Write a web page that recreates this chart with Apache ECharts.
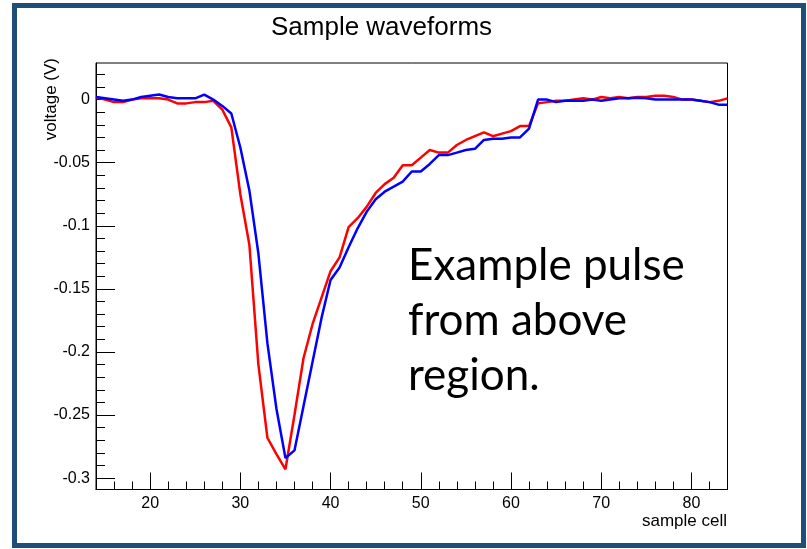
<!DOCTYPE html>
<html>
<head>
<meta charset="utf-8">
<script src="https://cdn.jsdelivr.net/npm/echarts@6/dist/echarts.min.js"></script>
<style>
  html, body { margin: 0; padding: 0; background: #ffffff; }
  #chart { width: 807px; height: 549px; }
</style>
</head>
<body>
<div id="chart"></div>
<script>
// Sample cells along the x axis
const cells = [14, 15, 16, 17, 18, 19, 20, 21, 22, 23, 24, 25, 26, 27, 28, 29, 30, 31, 32, 33,
  34, 35, 36, 37, 38, 39, 40, 41, 42, 43, 44, 45, 46, 47, 48, 49, 50, 51, 52, 53,
  54, 55, 56, 57, 58, 59, 60, 61, 62, 63, 64, 65, 66, 67, 68, 69, 70, 71, 72, 73,
  74, 75, 76, 77, 78, 79, 80, 81, 82, 83, 84];

// Voltage (V) of the red waveform, one value per sample cell
const redVolts = [0.002, 0.000, -0.002, -0.002, 0.000, 0.001, 0.001, 0.001, 0.000, -0.003,
  -0.003, -0.002, -0.002, -0.001, -0.008, -0.022, -0.075, -0.115, -0.210, -0.268,
  -0.281, -0.293, -0.250, -0.205, -0.178, -0.157, -0.136, -0.125, -0.101, -0.094,
  -0.085, -0.074, -0.067, -0.062, -0.052, -0.052, -0.046, -0.040, -0.042, -0.042,
  -0.036, -0.032, -0.029, -0.026, -0.029, -0.027, -0.025, -0.021, -0.021, -0.003,
  -0.002, -0.001, -0.001, 0.000, 0.001, 0.000, 0.002, 0.001, 0.002, 0.001,
  0.002, 0.002, 0.003, 0.003, 0.002, 0.000, 0.000, -0.001, -0.002, -0.001,
  0.001];

// Voltage (V) of the blue waveform, one value per sample cell
const blueVolts = [0.002, 0.001, 0.000, -0.001, 0.000, 0.002, 0.003, 0.004, 0.002, 0.001,
  0.001, 0.001, 0.004, 0.000, -0.005, -0.011, -0.038, -0.072, -0.122, -0.193,
  -0.245, -0.284, -0.278, -0.243, -0.208, -0.173, -0.143, -0.133, -0.117, -0.102,
  -0.089, -0.079, -0.073, -0.069, -0.065, -0.057, -0.057, -0.051, -0.044, -0.044,
  -0.042, -0.040, -0.039, -0.032, -0.031, -0.031, -0.030, -0.030, -0.023, 0.000,
  0.000, -0.002, -0.001, -0.001, -0.001, 0.000, -0.001, 0.000, 0.001, 0.001,
  0.0015, 0.001, 0.000, 0.000, 0.000, 0.000, 0.000, -0.001, -0.002, -0.004,
  -0.004];

// Axis ranges and tick positions
const xRange = [14, 84];
const yRange = [-0.309, 0.029];
const xMajorTicks = [20, 30, 40, 50, 60, 70, 80];
const xMinorTicks = [16, 18, 22, 24, 26, 28, 32, 34, 36, 38, 42, 44, 46, 48, 52, 54, 56, 58,
  62, 64, 66, 68, 72, 74, 76, 78, 82];
const yMajorTicks = [0, -0.05, -0.1, -0.15, -0.2, -0.25, -0.3];
const yMinorTicks = [0.02, 0.01, -0.01, -0.02, -0.03, -0.04, -0.06, -0.07, -0.08, -0.09,
  -0.11, -0.12, -0.13, -0.14, -0.16, -0.17, -0.18, -0.19, -0.21, -0.22, -0.23, -0.24,
  -0.26, -0.27, -0.28, -0.29];

const FONT = '"Liberation Sans", Arial, Helvetica, sans-serif';

function pairs(xs, ys) {
  return xs.map((x, i) => [x, ys[i]]);
}

const chart = echarts.init(document.getElementById('chart'), null, { renderer: 'canvas' });

const tickLine = { color: '#000', width: 1 };

chart.setOption({
  animation: false,
  backgroundColor: '#ffffff',
  title: {
    text: 'Sample waveforms',
    left: 376.5,
    top: 10,
    textAlign: 'center',
    textStyle: { fontFamily: FONT, fontSize: 26, fontWeight: 'normal', color: '#000' }
  },
  grid: {
    left: 96, top: 63, right: 79.5, bottom: 59.5,
    show: true, borderColor: '#000', borderWidth: 1, backgroundColor: 'transparent'
  },
  xAxis: [
    {
      type: 'value', min: xRange[0], max: xRange[1], position: 'bottom',
      axisLine: { show: true, onZero: false, lineStyle: tickLine },
      axisTick: { show: true, inside: true, length: 17, customValues: xMajorTicks, lineStyle: tickLine },
      axisLabel: {
        show: true, customValues: xMajorTicks, margin: 6,
        fontFamily: FONT, fontSize: 16, color: '#000'
      },
      splitLine: { show: false }
    },
    {
      type: 'value', min: xRange[0], max: xRange[1], position: 'bottom',
      axisLine: { show: false, onZero: false },
      axisTick: { show: true, inside: true, length: 8, customValues: xMinorTicks, lineStyle: tickLine },
      axisLabel: { show: false },
      splitLine: { show: false }
    }
  ],
  yAxis: [
    {
      type: 'value', min: yRange[0], max: yRange[1], position: 'left',
      axisLine: { show: true, onZero: false, lineStyle: tickLine },
      axisTick: { show: true, inside: true, length: 19, customValues: yMajorTicks, lineStyle: tickLine },
      axisLabel: {
        show: true, customValues: yMajorTicks, margin: 6,
        fontFamily: FONT, fontSize: 16, color: '#000',
        formatter: v => String(+v.toFixed(3))
      },
      splitLine: { show: false }
    },
    {
      type: 'value', min: yRange[0], max: yRange[1], position: 'left', offset: 0,
      axisLine: { show: false, onZero: false },
      axisTick: { show: true, inside: true, length: 9, customValues: yMinorTicks, lineStyle: tickLine },
      axisLabel: { show: false },
      splitLine: { show: false }
    }
  ],
  series: [
    {
      name: 'red', type: 'line', xAxisIndex: 0, yAxisIndex: 0,
      data: pairs(cells, redVolts), showSymbol: false, symbol: 'none',
      lineStyle: { color: '#ff0000', width: 2.5 }, z: 3
    },
    {
      name: 'blue', type: 'line', xAxisIndex: 0, yAxisIndex: 0,
      data: pairs(cells, blueVolts), showSymbol: false, symbol: 'none',
      lineStyle: { color: '#0000ff', width: 2.5 }, z: 4
    }
  ],
  graphic: [
    {
      type: 'rect', silent: true, z: 100,
      shape: { x: 14.5, y: 5.5, width: 789, height: 540 },
      style: { fill: 'none', stroke: '#1f4e79', lineWidth: 5 }
    },
    {
      type: 'text', x: 51, y: 58, rotation: Math.PI / 2,
      style: { text: 'voltage (V)', font: '17px ' + FONT, fill: '#000', align: 'right', verticalAlign: 'middle' }
    },
    {
      type: 'text', x: 727, y: 521,
      style: { text: 'sample cell', font: '17px ' + FONT, fill: '#000', align: 'right', verticalAlign: 'middle' }
    },
    {
      type: 'text', x: 408, y: 266,
      style: { text: 'Example pulse', font: '44px Lato, "Open Sans", sans-serif', fill: '#000', align: 'left', verticalAlign: 'middle' }
    },
    {
      type: 'text', x: 408, y: 321,
      style: { text: 'from above', font: '44px Lato, "Open Sans", sans-serif', fill: '#000', align: 'left', verticalAlign: 'middle' }
    },
    {
      type: 'text', x: 408, y: 376,
      style: { text: 'region.', font: '44px Lato, "Open Sans", sans-serif', fill: '#000', align: 'left', verticalAlign: 'middle' }
    }
  ]
});
</script>
</body>
</html>
